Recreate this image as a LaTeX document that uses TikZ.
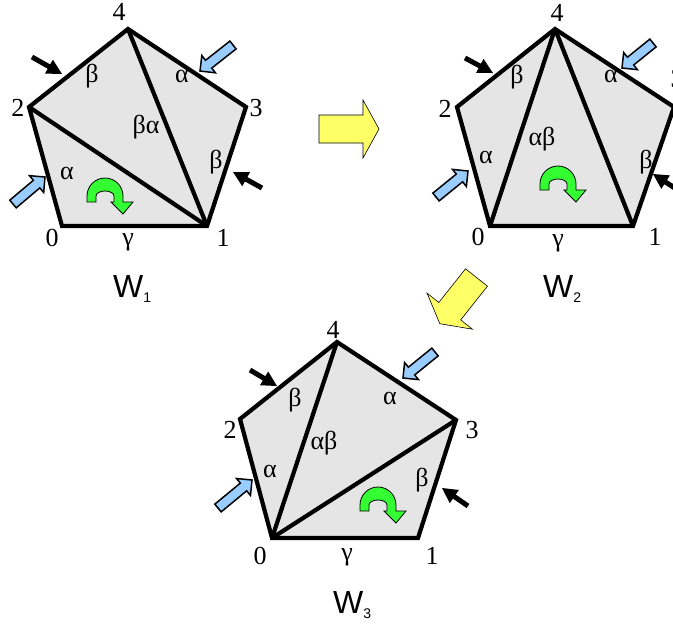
\documentclass[tikz,border=0pt]{standalone}
\usepackage{fontspec}
\setmainfont{Liberation Serif}
\newfontfamily\wfont{Liberation Sans}
\usetikzlibrary{calc}
\definecolor{facegrey}{RGB}{229,229,229}
\definecolor{skyblue}{RGB}{153,204,255}
\definecolor{lemon}{RGB}{255,255,102}
\definecolor{brightgreen}{RGB}{51,255,51}
% #1 style, #2 tail, #3 tip, #4 shaft half width, #5 head half width, #6 head length
\newcommand{\blockarrow}[6]{%
  \coordinate (ba-b) at ($(#3)!#6!(#2)$);
  \path[#1] ($(#2)!#4!90:(#3)$) -- ($(ba-b)!#4!-90:(#2)$) -- ($(ba-b)!#5!-90:(#2)$) -- (#3)
    -- ($(ba-b)!#5!90:(#2)$) -- ($(ba-b)!#4!90:(#2)$) -- ($(#2)!#4!-90:(#3)$) -- cycle;}
\begin{document}
\begin{tikzpicture}[x=1pt,y=1pt,
  face/.style={fill=facegrey, draw=black, line width=4.2pt, line join=miter},
  diag/.style={draw=black, line width=4.2pt},
  lbl/.style={inner sep=0pt, font=\fontsize{26}{26}\selectfont},
  wlbl/.style={inner sep=0pt, anchor=base west, font=\wfont\fontsize{32}{32}\selectfont},
  blackarr/.style={fill=black},
  bluearr/.style={fill=skyblue, draw=black, line width=1.5pt, line join=miter},
  yellowarr/.style={fill=lemon, draw=black, line width=0.6pt, line join=miter},
  greenarr/.style={fill=brightgreen, draw=black, line width=0.8pt},
  pics/turn/.style={code={\path[greenarr] (-18,-6) -- (-18,0) arc[start angle=180,end angle=0,radius=18]
     -- (18,-6) -- (28,-6) -- (18,-18) -- (6,-6) -- (9,-6) -- (9,0)
     arc[start angle=0,end angle=180,x radius=9,y radius=5] -- (-9,-6) -- cycle;}}
]
\useasboundingbox (0,0) rectangle (673,-635);

% ---------- W1 ----------
\coordinate (a0) at (62,-226);
\coordinate (a1) at (207,-226);
\coordinate (a3) at (246,-107);
\coordinate (a4) at (128,-29);
\coordinate (a2) at (29,-107);
\path[face] (a0) -- (a1) -- (a3) -- (a4) -- (a2) -- cycle;
\draw[diag] (a2) -- (a1);
\draw[diag] (a4) -- (a1);
\node[lbl] (a4l) at (119,-12) {4};
\node[lbl] (a2l) at (18,-108) {2};
\node[lbl] (a3l) at (256,-108) {3};
\node[lbl] (a0l) at (52,-238) {0};
\node[lbl] (a1l) at (223,-238) {1};
\node[lbl] (a01) at (128,-242) {γ};
\node[lbl] (a24) at (92,-76) {β};
\node[lbl] (a34) at (182,-76) {α};
\node[lbl] (a14) at (146,-127) {βα};
\node[lbl] (a13) at (216,-162) {β};
\node[lbl] (a02) at (67,-173) {α};
\node[wlbl] (w1) at (113,-297) {W\raisebox{-5pt}{\fontsize{14}{14}\selectfont 1}};
\blockarrow{blackarr}{32,-57}{62,-74}{2.5pt}{8pt}{15pt}
\blockarrow{bluearr}{233,-45}{200,-71}{5pt}{11pt}{11pt}
\blockarrow{bluearr}{13,-204}{45,-177}{5pt}{11pt}{11pt}
\blockarrow{blackarr}{262,-188}{233,-172}{2.5pt}{8pt}{15pt}
\pic at (105,-196) {turn};

% ---------- W2 ----------
\coordinate (b0) at (490,-226);
\coordinate (b1) at (633,-226);
\coordinate (b3) at (674,-107);
\coordinate (b4) at (555,-29);
\coordinate (b2) at (457,-107);
\path[face] (b0) -- (b1) -- (b3) -- (b4) -- (b2) -- cycle;
\draw[diag] (b0) -- (b4);
\draw[diag] (b1) -- (b4);
\node[lbl] (b4l) at (557,-13) {4};
\node[lbl] (b2l) at (445,-109) {2};
\node[lbl] (b3l) at (677,-79) {3};
\node[lbl] (b0l) at (478,-237) {0};
\node[lbl] (b1l) at (655,-237) {1};
\node[lbl] (b01) at (558,-243) {γ};
\node[lbl] (b24) at (517,-77) {β};
\node[lbl] (b34) at (611,-76) {α};
\node[lbl] (b04) at (542,-139) {αβ};
\node[lbl] (b02) at (486,-157) {α};
\node[lbl] (b13) at (646,-162) {β};
\node[wlbl] (w2) at (543,-297) {W\raisebox{-5pt}{\fontsize{14}{14}\selectfont 2}};
\blockarrow{blackarr}{465,-58}{493,-73}{2.5pt}{8pt}{15pt}
\blockarrow{bluearr}{653,-43}{622,-68}{5pt}{11pt}{11pt}
\blockarrow{bluearr}{436,-197}{468,-171}{5pt}{11pt}{11pt}
\blockarrow{blackarr}{681,-192}{653,-174}{2.5pt}{8pt}{15pt}
\pic at (558,-184) {turn};

% ---------- W3 ----------
\coordinate (c0) at (272,-538);
\coordinate (c1) at (418,-538);
\coordinate (c3) at (456,-420);
\coordinate (c4) at (337,-342);
\coordinate (c2) at (240,-419);
\path[face] (c0) -- (c1) -- (c3) -- (c4) -- (c2) -- cycle;
\draw[diag] (c0) -- (c4);
\draw[diag] (c0) -- (c3);
\node[lbl] (c4l) at (333,-330) {4};
\node[lbl] (c2l) at (230,-430) {2};
\node[lbl] (c3l) at (472,-430) {3};
\node[lbl] (c0l) at (260,-556) {0};
\node[lbl] (c1l) at (432,-556) {1};
\node[lbl] (c01) at (347,-557) {γ};
\node[lbl] (c24) at (295,-400) {β};
\node[lbl] (c34) at (390,-398) {α};
\node[lbl] (c04) at (324,-443) {αβ};
\node[lbl] (c02) at (270,-471) {α};
\node[lbl] (c13) at (422,-480) {β};
\node[wlbl] (w3) at (333,-613) {W\raisebox{-5pt}{\fontsize{14}{14}\selectfont 3}};
\blockarrow{blackarr}{250,-370}{277,-386}{2.5pt}{8pt}{15pt}
\blockarrow{bluearr}{435,-352}{403,-378}{5pt}{11pt}{11pt}
\blockarrow{bluearr}{218,-508}{252,-480}{5pt}{11pt}{11pt}
\blockarrow{blackarr}{468,-506}{442,-488}{2.5pt}{8pt}{15pt}
\pic at (378,-505) {turn};

% ---------- transition arrows ----------
\blockarrow{yellowarr}{319,-129}{379,-129}{14pt}{29pt}{16pt}
\blockarrow{yellowarr}{476.5,-277.5}{439.8,-323.7}{14pt}{29pt}{16pt}
\end{tikzpicture}
\end{document}
